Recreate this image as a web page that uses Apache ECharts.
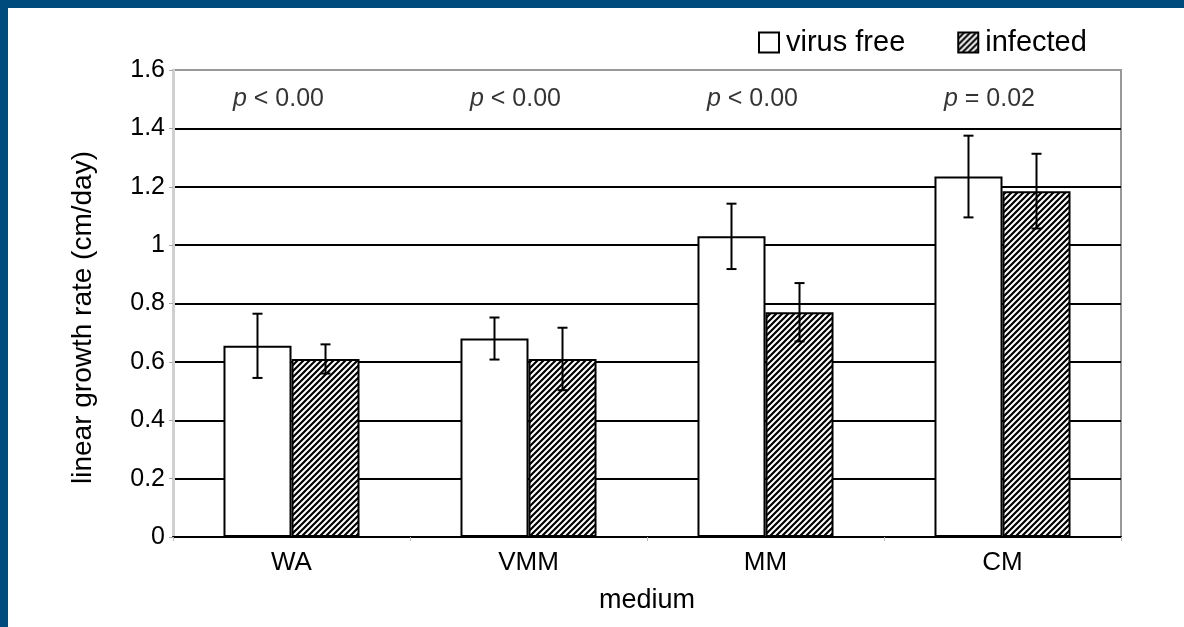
<!DOCTYPE html>
<html><head><meta charset="utf-8">
<script src="https://cdn.jsdelivr.net/npm/echarts@6/dist/echarts.min.js"></script>
<style>
html,body{margin:0;padding:0;background:#004b7d;width:1184px;height:627px;overflow:hidden}
#c{position:absolute;left:8px;top:8px;width:1176px;height:619px;background:#fff}
</style></head><body><div id="c"></div>
<script>
const categories = ['WA', 'VMM', 'MM', 'CM'];
const virusFree = [0.655, 0.68, 1.03, 1.235];
const virusFreeErr = [0.11, 0.072, 0.112, 0.14];
const infected = [0.61, 0.61, 0.77, 1.185];
const infectedErr = [0.05, 0.107, 0.1, 0.128];
const pLabels = ['< 0.00', '< 0.00', '< 0.00', '= 0.02'];
const pLabelLevel = 1.5;
const yTickLabels = ['0', '0.2', '0.4', '0.6', '0.8', '1', '1.2', '1.4', '1.6'];

const FONT = "'Liberation Sans', Arial, sans-serif";
const INK = '#000';
const GAP = 0.426;

// hatch pattern
const pc = document.createElement('canvas');
pc.width = 6; pc.height = 6;
const g = pc.getContext('2d');
g.fillStyle = '#fff'; g.fillRect(0, 0, 6, 6);
g.strokeStyle = '#000'; g.lineWidth = 2.2;
g.beginPath();
g.moveTo(-1, 7); g.lineTo(7, -1);
g.moveTo(-4, 4); g.lineTo(4, -4);
g.moveTo(2, 10); g.lineTo(10, 2);
g.stroke();
const hatch = { image: pc, repeat: 'repeat' };

function errSeries(vals, errs, side) {
  return {
    type: 'custom',
    z: 10,
    silent: true,
    renderItem: function (params, api) {
      const i = api.value(0), v = api.value(1), e = api.value(2);
      const band = api.size([1, 0])[0];
      const bw = band * (1 - GAP) / 2;
      const c = api.coord([i, v]);
      const x = c[0] + side * bw / 2;
      const top = api.coord([i, v + e])[1];
      const bot = api.coord([i, v - e])[1];
      const cap = 5;
      const st = { stroke: '#000', lineWidth: 2 };
      return {
        type: 'group', children: [
          { type: 'line', shape: { x1: x, y1: top, x2: x, y2: bot }, style: st },
          { type: 'line', shape: { x1: x - cap, y1: top, x2: x + cap, y2: top }, style: st },
          { type: 'line', shape: { x1: x - cap, y1: bot, x2: x + cap, y2: bot }, style: st }
        ]
      };
    },
    data: categories.map((c, i) => [i, vals[i], errs[i]])
  };
}

const chart = echarts.init(document.getElementById('c'));
chart.setOption({
  animation: false,
  textStyle: { fontFamily: FONT, color: INK },
  grid: { left: 165, right: 63, top: 62, bottom: 90, show: true, borderColor: '#999', borderWidth: 2 },
  legend: {
    data: ['virus free', 'infected'],
    left: 750, top: 20, padding: 0,
    itemWidth: 20, itemHeight: 20, itemGap: 52,
    icon: 'rect',
    textStyle: { fontSize: 29, fontFamily: FONT, color: INK, padding: [0, 0, 0, 2] }
  },
  xAxis: {
    type: 'category',
    data: categories,
    name: 'medium',
    nameLocation: 'middle',
    nameGap: 50,
    nameTextStyle: { fontSize: 27, fontFamily: FONT, color: INK },
    axisLine: { lineStyle: { color: '#000', width: 2 } },
    axisTick: { show: true, length: 4, lineStyle: { color: '#bbb' } },
    axisLabel: { fontSize: 26, margin: 13, color: INK, fontFamily: FONT }
  },
  yAxis: {
    type: 'value',
    min: 0, max: 1.6, interval: 0.2,
    name: 'linear growth rate (cm/day)',
    nameLocation: 'middle',
    nameGap: 76,
    nameTextStyle: { fontSize: 28, fontFamily: FONT, color: INK, padding: [0, 28, 0, 0] },
    axisLine: { show: true, lineStyle: { color: '#d0d0d0', width: 3 } },
    axisTick: { show: true, length: 4, lineStyle: { color: '#aaa' } },
    axisLabel: {
      fontSize: 25, margin: 8, color: INK, fontFamily: FONT,
      formatter: v => yTickLabels[Math.round(v / 0.2)]
    },
    splitLine: { lineStyle: { color: ['#000', '#000', '#000', '#000', '#000', '#000', '#000', '#000', '#999'], width: 2 } }
  },
  series: [
    {
      name: 'virus free', type: 'bar', data: virusFree,
      barGap: '0%', barCategoryGap: (GAP * 100) + '%',
      itemStyle: { color: '#fff', borderColor: '#000', borderWidth: 2 }
    },
    {
      name: 'infected', type: 'bar', data: infected,
      barGap: '0%', barCategoryGap: (GAP * 100) + '%',
      itemStyle: { color: hatch, borderColor: '#000', borderWidth: 2 }
    },
    errSeries(virusFree, virusFreeErr, -1),
    errSeries(infected, infectedErr, 1),
    {
      type: 'scatter', symbolSize: 0, silent: true,
      data: categories.map((c, i) => [i, pLabelLevel]),
      label: {
        show: true, position: 'inside', offset: [-13, 0],
        formatter: p => '{i|p} ' + pLabels[p.dataIndex],
        fontSize: 25, color: INK, fontFamily: FONT,
        rich: { i: { fontStyle: 'italic', fontSize: 25, fontFamily: FONT, color: INK } }
      }
    }
  ]
});
</script></body></html>
